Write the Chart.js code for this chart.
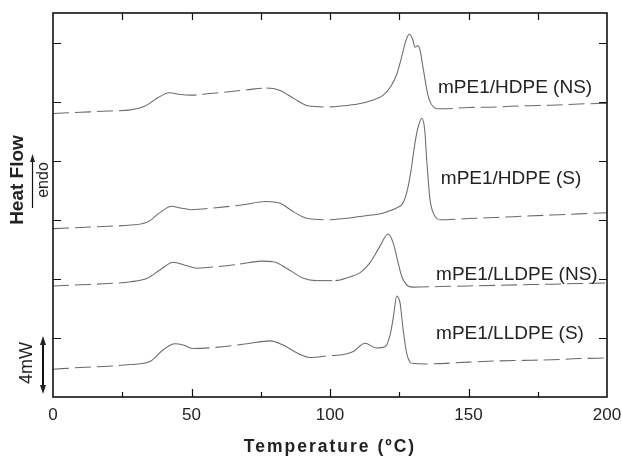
<!DOCTYPE html>
<html>
<head>
<meta charset="utf-8">
<script src="https://cdn.jsdelivr.net/npm/chart.js@4.4.0/dist/chart.umd.min.js"></script>
<style>
  html, body { margin: 0; padding: 0; background: #fff; }
  #wrap { width: 622px; height: 457px; }
</style>
</head>
<body>
<div id="wrap"><canvas id="dsc" width="622" height="457"></canvas></div>
<script>
// DSC heating traces, heat flow in arbitrary stacked units (1 unit = one tick)
const tempHdpeNS = [0, 10, 20, 28, 33, 38, 42, 46, 50, 55, 62, 70, 77, 82, 87, 92, 99, 105, 110, 115, 119, 122, 124, 126, 127.3, 128.6, 129.8, 130.7, 131.8, 132.6, 133.5, 134.4, 135.4, 136.4, 137.4, 138.5, 141, 150, 160, 170, 180, 190, 200];
const flowHdpeNS = [4.80, 4.82, 4.84, 4.86, 4.92, 5.07, 5.15, 5.12, 5.11, 5.13, 5.16, 5.20, 5.23, 5.19, 5.05, 4.93, 4.91, 4.93, 4.96, 5.02, 5.10, 5.26, 5.45, 5.78, 6.02, 6.14, 6.06, 5.92, 5.95, 5.85, 5.60, 5.35, 5.10, 4.97, 4.91, 4.88, 4.88, 4.90, 4.91, 4.93, 4.94, 4.96, 4.97];

const tempHdpeS = [0, 10, 20, 28, 34, 38.6, 42.8, 46, 50, 58, 68, 77, 82, 87, 92, 99, 105, 110, 115, 119, 122, 124, 126, 127.2, 128.2, 129.2, 130.2, 131.2, 132, 133.1, 134.2, 134.9, 135.5, 136.1, 137, 138, 139.5, 150, 160, 170, 180, 190, 200];
const flowHdpeS = [2.85, 2.87, 2.89, 2.91, 2.96, 3.12, 3.23, 3.20, 3.17, 3.20, 3.25, 3.31, 3.28, 3.13, 3.02, 3.00, 3.02, 3.05, 3.08, 3.11, 3.16, 3.20, 3.26, 3.38, 3.56, 3.82, 4.15, 4.44, 4.60, 4.72, 4.52, 4.02, 3.65, 3.34, 3.15, 3.05, 3.00, 3.02, 3.04, 3.06, 3.08, 3.10, 3.12];

const tempLldpeNS = [0, 10, 20, 28, 34, 38.6, 43.4, 48.3, 52, 60, 67.5, 75.3, 79.6, 84.3, 90.4, 95, 102, 107, 110.8, 114.4, 118, 121, 122.8, 124.6, 125.9, 127, 128.2, 130, 140, 150, 160, 170, 180, 190, 200];
const flowLldpeNS = [1.88, 1.90, 1.92, 1.95, 2.01, 2.15, 2.28, 2.22, 2.18, 2.21, 2.25, 2.30, 2.29, 2.18, 2.01, 1.97, 1.97, 2.03, 2.10, 2.27, 2.55, 2.76, 2.61, 2.27, 2.04, 1.94, 1.88, 1.86, 1.87, 1.88, 1.89, 1.90, 1.91, 1.92, 1.93];

const tempLldpeS = [0, 10, 20, 28, 35, 39.8, 44, 47, 50.7, 58.7, 69.9, 78.3, 83.1, 88, 92.8, 100, 103.6, 108.4, 112.6, 116.8, 119.9, 121.7, 122.9, 124.1, 125.3, 126.4, 127.7, 129.5, 135, 150, 160, 170, 180, 190, 200];
const flowLldpeS = [0.47, 0.50, 0.52, 0.55, 0.60, 0.80, 0.90, 0.88, 0.82, 0.84, 0.90, 0.95, 0.88, 0.75, 0.67, 0.70, 0.71, 0.77, 0.91, 0.83, 0.85, 1.05, 1.36, 1.71, 1.59, 1.14, 0.74, 0.57, 0.56, 0.59, 0.61, 0.62, 0.63, 0.65, 0.66];

const seriesNames = ['mPE1/HDPE (NS)', 'mPE1/HDPE (S)', 'mPE1/LLDPE (NS)', 'mPE1/LLDPE (S)'];
// where each name sits, in data units (temperature, heat flow)
const nameTemp = [139, 140, 138.3, 138.3];
const nameFlow = [5.24, 3.69, 2.07, 1.07];

const xTicks = [0, 50, 100, 150, 200];
const yTicks = [1, 2, 3, 4, 5, 6];

const FONT = "'Liberation Sans', Arial, sans-serif";
Chart.defaults.font.family = FONT;

function toPoints(xs, ys) {
    return xs.map((x, i) => ({ x: x, y: ys[i] }));
}

function makeSet(label, xs, ys) {
    return {
        label: label,
        data: toPoints(xs, ys),
        borderColor: '#6a6a6a',
        borderWidth: 1.05,
        pointRadius: 0,
        cubicInterpolationMode: 'monotone',
        segment: {
            // flat stretches look dashed in the original scan
            borderDash: c => {
                const dx = c.p1.x - c.p0.x;
                const dy = Math.abs(c.p1.y - c.p0.y);
                return dy / dx < 0.12 ? [16, 6] : [];
            }
        }
    };
}

function arrowHead(ctx, x, y, dir, w, h) {
    ctx.beginPath();
    ctx.moveTo(x, y);
    ctx.lineTo(x - w, y + dir * h);
    ctx.lineTo(x + w, y + dir * h);
    ctx.closePath();
    ctx.fill();
}

const decor = {
    id: 'decor',
    afterDraw(chart) {
        const { ctx, chartArea: a, scales: { x, y } } = chart;
        ctx.save();
        ctx.strokeStyle = '#111';
        ctx.fillStyle = '#111';

        // frame
        ctx.lineWidth = 1.6;
        ctx.strokeRect(a.left, a.top, a.right - a.left, a.bottom - a.top);

        // inward ticks
        ctx.lineWidth = 1.2;
        ctx.beginPath();
        for (let v = 25; v < 200; v += 25) {
            const px = Math.round(x.getPixelForValue(v)) + 0.5;
            const len = v % 50 === 0 ? 8 : 5;
            ctx.moveTo(px, a.bottom); ctx.lineTo(px, a.bottom - len);
            ctx.moveTo(px, a.top); ctx.lineTo(px, a.top + 7);
        }
        yTicks.forEach(v => {
            const py = Math.round(y.getPixelForValue(v)) + 0.5;
            ctx.moveTo(a.left, py); ctx.lineTo(a.left + 8, py);
            ctx.moveTo(a.right, py); ctx.lineTo(a.right - 8, py);
        });
        ctx.stroke();

        // x tick labels (drawn here so the last one may touch the edge)
        ctx.fillStyle = '#222';
        ctx.font = '17px ' + FONT;
        ctx.textBaseline = 'middle';
        ctx.textAlign = 'center';
        xTicks.forEach(v => ctx.fillText(String(v), x.getPixelForValue(v), a.bottom + 18));

        // curve names
        ctx.font = '19px ' + FONT;
        ctx.textAlign = 'left';
        seriesNames.forEach((n, i) => {
            ctx.fillText(n, x.getPixelForValue(nameTemp[i]), y.getPixelForValue(nameFlow[i]));
        });

        // x title
        ctx.font = 'bold 17.5px ' + FONT;
        ctx.letterSpacing = '2px';
        ctx.textAlign = 'center';
        ctx.fillText('Temperature (\u00baC)', (a.left + a.right) / 2, 447);
        ctx.letterSpacing = '0px';

        // y title block: "Heat Flow", arrow, "endo"
        ctx.save();
        ctx.translate(18, 180);
        ctx.rotate(-Math.PI / 2);
        ctx.font = 'bold 19px ' + FONT;
        ctx.fillText('Heat Flow', 0, 0);
        ctx.restore();

        ctx.lineWidth = 1.2;
        ctx.beginPath();
        ctx.moveTo(32.5, 208); ctx.lineTo(32.5, 160);
        ctx.stroke();
        arrowHead(ctx, 32.5, 154, 1, 2.5, 8);

        ctx.save();
        ctx.translate(44, 180);
        ctx.rotate(-Math.PI / 2);
        ctx.font = '16px ' + FONT;
        ctx.fillText('endo', 0, 0);
        ctx.restore();

        // 4 mW scale bar
        ctx.save();
        ctx.translate(27, 363);
        ctx.rotate(-Math.PI / 2);
        ctx.font = '18px ' + FONT;
        ctx.fillText('4mW', 0, 0);
        ctx.restore();

        ctx.lineWidth = 2;
        ctx.beginPath();
        ctx.moveTo(43, 343); ctx.lineTo(43, 387);
        ctx.stroke();
        arrowHead(ctx, 43, 336, 1, 3, 9);
        arrowHead(ctx, 43, 394, -1, 3, 9);

        ctx.restore();
    }
};

new Chart(document.getElementById('dsc'), {
    type: 'line',
    data: {
        datasets: [
            makeSet(seriesNames[0], tempHdpeNS, flowHdpeNS),
            makeSet(seriesNames[1], tempHdpeS, flowHdpeS),
            makeSet(seriesNames[2], tempLldpeNS, flowLldpeNS),
            makeSet(seriesNames[3], tempLldpeS, flowLldpeS),
        ]
    },
    options: {
        responsive: false,
        animation: false,
        devicePixelRatio: 1,
        layout: { padding: { top: 13, right: 15, left: 0, bottom: 0 } },
        plugins: { legend: { display: false }, tooltip: { enabled: false } },
        scales: {
            x: {
                type: 'linear',
                min: 0,
                max: 200,
                afterBuildTicks: s => { s.ticks = xTicks.map(v => ({ value: v })); },
                afterFit: s => { s.height = 60; },
                grid: { display: false, drawTicks: false },
                border: { display: false },
                ticks: { display: false },
            },
            y: {
                type: 'linear',
                min: 0,
                max: 6.5,
                afterFit: s => { s.width = 53; },
                grid: { display: false, drawTicks: false },
                border: { display: false },
                ticks: { display: false },
            }
        }
    },
    plugins: [decor]
});
</script>
</body>
</html>
